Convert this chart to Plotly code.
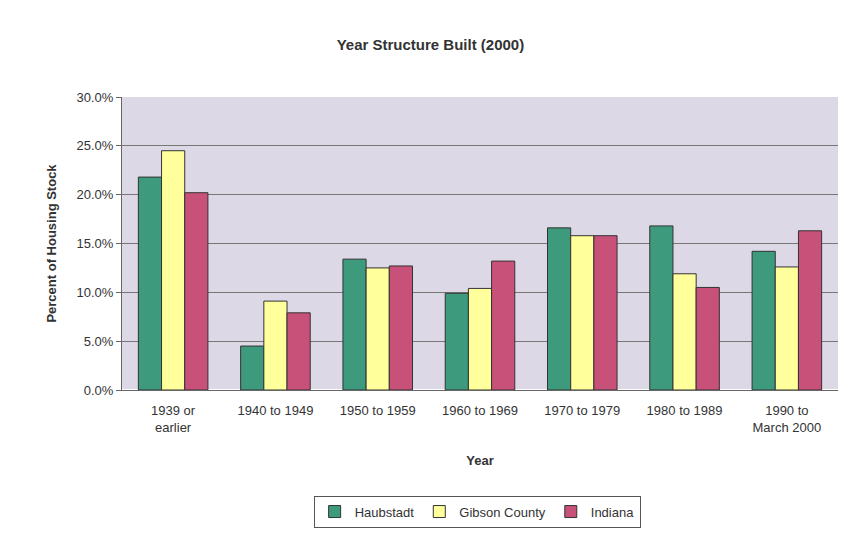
import plotly.graph_objects as go

categories = ["1939 or<br>earlier", "1940 to 1949", "1950 to 1959", "1960 to 1969",
              "1970 to 1979", "1980 to 1989", "1990 to<br>March 2000"]
haubstadt = [21.8, 4.5, 13.4, 9.9, 16.6, 16.8, 14.2]
gibson = [24.5, 9.1, 12.5, 10.4, 15.8, 11.9, 12.6]
indiana = [20.2, 7.9, 12.7, 13.2, 15.8, 10.5, 16.3]

series = [("Haubstadt", haubstadt, "#3d9a7c"),
          ("Gibson County", gibson, "#ffff9c"),
          ("Indiana", indiana, "#c8517a")]

fig = go.Figure()
for name, vals, col in series:
    fig.add_trace(go.Bar(x=categories, y=vals, name=name, marker_color=col,
                         marker_line=dict(color="#333333", width=1)))

fig.update_layout(
    width=849, height=539,
    margin=dict(l=122, r=11, t=97, b=149),
    paper_bgcolor="white",
    plot_bgcolor="#dcd8e6",
    barmode="group", bargap=0.32, bargroupgap=0.0,
    font=dict(family="Liberation Sans, Arial", color="#333333", size=13),
    title=dict(text="<b>Year Structure Built (2000)</b>", x=0.507, xanchor="center",
               y=1 - 45 / 539, yanchor="middle", font=dict(size=15, color="#333333")),
    legend=dict(orientation="h", x=0.496, xanchor="center", y=-0.415, yanchor="middle",
                bordercolor="#555555", borderwidth=1, font=dict(size=13),
                itemwidth=30, traceorder="normal", tracegroupgap=0),
    showlegend=True,
)
fig.update_yaxes(range=[0, 30], dtick=5, ticksuffix="%", tickformat=".1f",
                 showgrid=True, gridcolor="#777777", gridwidth=1,
                 showline=True, linecolor="#666666", ticks="outside", ticklen=5,
                 tickcolor="#666666",
                 title=dict(text="<b>Percent of Housing Stock</b>", font=dict(size=13),
                            standoff=16))
fig.update_xaxes(showline=True, linecolor="#666666", ticks="outside", ticklen=8,
                 tickcolor="rgba(0,0,0,0)", tickangle=0,
                 title=dict(text="<b>Year</b>", font=dict(size=13), standoff=22))

fig.write_html("out.html")
